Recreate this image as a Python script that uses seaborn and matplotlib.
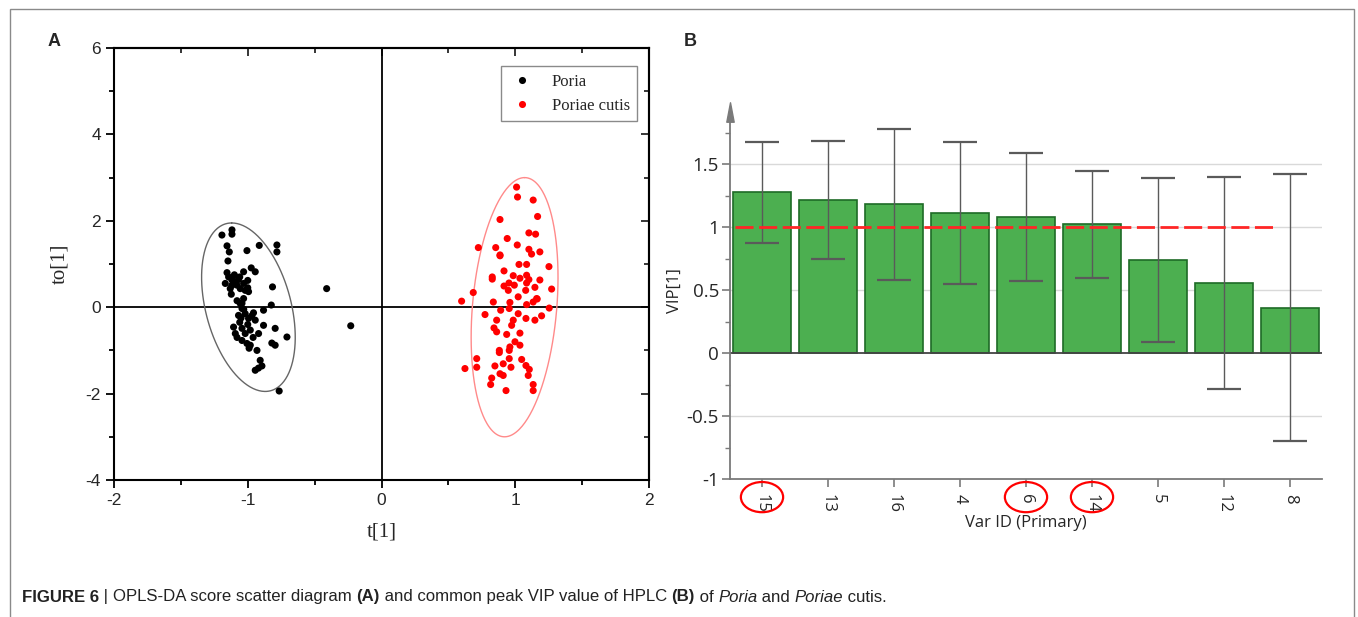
import matplotlib
matplotlib.use("Agg")
import matplotlib.pyplot as plt
import seaborn as sns
import numpy as np
import pandas as pd
from matplotlib.patches import Ellipse, Rectangle
from matplotlib.transforms import blended_transform_factory
from matplotlib.ticker import MultipleLocator
from matplotlib.path import Path

# ---------------- data : panel A (OPLS-DA scores) ----------------
poria_t = [-1.193, -1.118, -1.118, -1.155, -1.138, -1.006, -0.914, -0.782, -0.782, -1.148,
           -1.031, -0.974, -0.944, -1.155, -1.143, -1.168, -1.118, -1.093, -1.069, -1.081,
           -1.131, -1.056, -1.031, -1.019, -0.994, -1.123, -0.815, -1.031, -1.043, -0.824,
           -1.056, -1.043, -1.069, -1.019, -0.957, -0.882, -0.994, -0.944, -0.882, -1.106,
           -1.093, -1.043, -1.019, -0.981, -0.919, -0.795, -0.707, -1.043, -1.006, -0.981,
           -0.931, -0.820, -0.795, -0.907, -0.894, -0.944, -0.920, -0.765, -0.410, -0.230,
           -1.080, -1.060, -1.000, -1.080, -0.960, -1.030, -1.100, -1.120, -0.970, -1.000,
           -1.050, -0.990, -1.060, -1.000]
poria_to = [1.67, 1.79, 1.69, 1.42, 1.28, 1.31, 1.43, 1.44, 1.28, 1.07,
            0.82, 0.91, 0.82, 0.80, 0.70, 0.55, 0.63, 0.59, 0.64, 0.51,
            0.43, 0.43, 0.55, 0.39, 0.36, 0.30, 0.47, 0.20, 0.09, 0.05,
            0.085, -0.03, -0.19, -0.15, -0.13, -0.07, -0.26, -0.30, -0.42, -0.46,
            -0.61, -0.49, -0.61, -0.53, -0.61, -0.49, -0.69, -0.77, -0.84, -0.88,
            -1.00, -0.83, -0.88, -1.23, -1.36, -1.46, -1.41, -1.94, 0.43, -0.43,
            0.15, -0.35, -0.40, -0.70, -0.70, -0.05, 0.75, 0.50, -0.20, 0.62,
            -0.25, -0.95, 0.70, 0.45]

cutis_t = [1.010, 1.017, 1.134, 0.886, 1.167, 1.102, 1.152, 0.940, 0.724, 0.854,
           1.015, 1.102, 1.122, 1.184, 0.886, 0.886, 1.028, 1.085, 1.252, 0.916,
           0.985, 0.828, 0.828, 1.085, 1.102, 1.035, 1.184, 0.953, 0.916, 0.993,
           1.085, 1.078, 1.147, 1.272, 0.948, 0.686, 1.022, 1.160,
           0.599, 0.836, 0.960, 1.085, 1.134, 1.164, 1.254, 0.891, 0.955, 0.774,
           1.022, 0.861, 0.985, 1.080, 1.147, 1.197, 0.973, 0.841, 0.861, 0.936,
           1.035, 0.998, 0.960, 1.035, 0.881, 0.881, 0.955, 0.712, 0.712, 0.624,
           0.848, 0.910, 0.955, 0.968, 1.048, 1.080, 1.105, 1.097, 0.886, 0.910,
           0.824, 0.816, 0.931, 1.134, 1.134]
cutis_to = [2.78, 2.55, 2.48, 2.03, 2.10, 1.72, 1.69, 1.59, 1.38, 1.38,
            1.44, 1.34, 1.23, 1.28, 1.21, 1.19, 0.99, 0.99, 0.94, 0.84,
            0.73, 0.70, 0.65, 0.74, 0.64, 0.67, 0.63, 0.56, 0.49, 0.51,
            0.56, 0.39, 0.46, 0.42, 0.39, 0.34, 0.24, 0.20,
            0.14, 0.12, 0.11, 0.06, 0.12, 0.19, -0.02, -0.07, -0.03, -0.17,
            -0.15, -0.30, -0.30, -0.26, -0.30, -0.20, -0.42, -0.48, -0.57, -0.63,
            -0.60, -0.80, -0.92, -0.88, -1.00, -1.05, -1.00, -1.19, -1.39, -1.42,
            -1.36, -1.31, -1.19, -1.39, -1.21, -1.35, -1.44, -1.58, -1.54, -1.58,
            -1.64, -1.79, -1.93, -1.79, -1.93]

group_names = ["Poria", "Poriae cutis"]
group_colors = ["black", "red"]

# confidence ellipses: centre, upper-vertex offset, horizontal conjugate half-width
poria_ellipse = {"cx": -0.995, "cy": 0.0, "dx": -0.125, "dy": 1.95, "hw": 0.327}
cutis_ellipse = {"cx": 0.995, "cy": 0.0, "dx": 0.075, "dy": 3.0, "hw": 0.316}

# ---------------- data : panel B (VIP) ----------------
vip_ids = ["15", "13", "16", "4", "6", "14", "5", "12", "8"]
vip_values = [1.277, 1.216, 1.181, 1.113, 1.078, 1.023, 0.739, 0.556, 0.360]
vip_err = [0.40, 0.47, 0.60, 0.565, 0.51, 0.425, 0.65, 0.84, 1.06]
vip_threshold = 1.0
circled_ids = ["15", "6", "14"]

# ---------------- figure ----------------
sns.set_theme(style="white")
plt.rcParams["font.family"] = ["Liberation Sans", "DejaVu Sans"]
plt.rcParams["axes.unicode_minus"] = False

W, H = 1358, 617
fig = plt.figure(figsize=(W / 100, H / 100), dpi=100)
fig.patch.set_facecolor("white")

# outer frame
fig.add_artist(Rectangle((10 / W, -0.01), (1354 - 10) / W, 1.01 - 9 / H,
                         transform=fig.transFigure, fill=False,
                         edgecolor="#8a8a8a", lw=1.0))

# ======== Panel A ========
axA = fig.add_axes([114 / W, 1 - 480 / H, (649 - 114) / W, (480 - 48) / H])
df = pd.DataFrame({
    "t": poria_t + cutis_t,
    "to": poria_to + cutis_to,
    "group": [group_names[0]] * len(poria_t) + [group_names[1]] * len(cutis_t),
})
sns.scatterplot(data=df, x="t", y="to", hue="group", hue_order=group_names,
                palette=dict(zip(group_names, group_colors)), s=26,
                linewidth=0, ax=axA, zorder=3)

tt = np.linspace(0, 2 * np.pi, 300)
for e, col in [(poria_ellipse, "#666666"), (cutis_ellipse, "#ff8a8a")]:
    ex = e["cx"] + e["dx"] * np.cos(tt) + e["hw"] * np.sin(tt)
    ey = e["cy"] + e["dy"] * np.cos(tt)
    axA.plot(ex, ey, color=col, lw=1.0, zorder=2)

axA.axhline(0, color="black", lw=1.3, zorder=1)
axA.axvline(0, color="black", lw=1.3, zorder=1)
axA.set_xlim(-2, 2)
axA.set_ylim(-4, 6)
axA.xaxis.set_major_locator(MultipleLocator(1))
axA.xaxis.set_minor_locator(MultipleLocator(0.5))
axA.yaxis.set_major_locator(MultipleLocator(2))
axA.yaxis.set_minor_locator(MultipleLocator(1))
for s in axA.spines.values():
    s.set_color("black")
    s.set_linewidth(1.5)
axA.tick_params(which="both", direction="out", color="black", width=1.3,
                bottom=True, left=True, top=False, right=False,
                labelsize=12.5)
axA.tick_params(which="major", length=6)
axA.tick_params(which="minor", length=3.5)
for lab in axA.get_xticklabels() + axA.get_yticklabels():
    lab.set_fontfamily("Liberation Sans")

secx = axA.secondary_xaxis("top")
secx.xaxis.set_major_locator(MultipleLocator(1))
secx.xaxis.set_minor_locator(MultipleLocator(0.5))
secx.tick_params(which="both", direction="in", labeltop=False, width=1.3)
secx.tick_params(which="major", length=6)
secx.tick_params(which="minor", length=3.5)
secx.spines["top"].set_linewidth(1.5)
secy = axA.secondary_yaxis("right")
secy.yaxis.set_major_locator(MultipleLocator(2))
secy.yaxis.set_minor_locator(MultipleLocator(1))
secy.tick_params(which="both", direction="in", labelright=False, width=1.3)
secy.tick_params(which="major", length=6)
secy.tick_params(which="minor", length=3.5)
secy.spines["right"].set_linewidth(1.5)

axA.set_xlabel("t[1]", fontfamily="Liberation Serif", fontsize=15, labelpad=10)
axA.set_ylabel("to[1]", fontfamily="Liberation Serif", fontsize=15, labelpad=12)

leg = axA.legend(loc="upper right", bbox_to_anchor=(0.978, 0.958),
                 borderaxespad=0, frameon=True, fancybox=False,
                 edgecolor="#8a8a8a", framealpha=1,
                 prop={"family": "Liberation Serif", "size": 12},
                 handletextpad=1.0, borderpad=0.45, labelspacing=0.5,
                 markerscale=1.0, handlelength=1.6)
leg.get_frame().set_linewidth(1.0)

fig.text(54 / W, 1 - 42 / H, "A", fontsize=13, fontweight="bold",
         ha="center", va="center")

# ======== Panel B ========
axB = fig.add_axes([730 / W, 1 - 479 / H, (1322 - 730) / W, (479 - 101.7) / H])
dfb = pd.DataFrame({"id": vip_ids, "vip": vip_values})
sns.barplot(data=dfb, x="id", y="vip", order=vip_ids, color="#4caf50",
            saturation=1, edgecolor="#1e6b26", linewidth=1.2, width=0.88,
            errorbar=None, ax=axB, zorder=2)
axB.errorbar(np.arange(len(vip_ids)), vip_values, yerr=vip_err, fmt="none",
             ecolor="#5a5a5a", elinewidth=1.0, capsize=12, capthick=1.6,
             zorder=3)
axB.set_xlim(-0.485, len(vip_ids) - 1 + 0.485)
axB.set_ylim(-1, 1.995)
axB.set_yticks([-1, -0.5, 0, 0.5, 1, 1.5])
axB.set_yticklabels(["-1", "-0.5", "0", "0.5", "1", "1.5"])
axB.yaxis.set_minor_locator(MultipleLocator(0.25))
axB.grid(False)
for yv in [-0.5, 0.5, 1, 1.5]:
    axB.axhline(yv, color="#d9d9d9", lw=1.0, zorder=0)
axB.axhline(0, color="#444444", lw=1.3, zorder=2.5)
axB.axhline(vip_threshold, xmin=0.008, xmax=0.926, color="#ff2626", lw=2.0,
            ls=(0, (6.5, 2.0)), zorder=4)

for side in ["top", "right"]:
    axB.spines[side].set_visible(False)
axB.spines["left"].set_color("#7a7a7a")
axB.spines["bottom"].set_color("#7a7a7a")
axB.spines["left"].set_linewidth(1.3)
axB.spines["bottom"].set_linewidth(1.3)
axB.spines["left"].set_bounds(-1, 1.84)
arrow = Path([(-0.38, -1), (0.38, -1), (0, 1), (-0.38, -1)],
             [Path.MOVETO, Path.LINETO, Path.LINETO, Path.CLOSEPOLY])
axB.plot([0], [1.915], marker=arrow, ms=14, color="#7a7a7a",
         transform=axB.get_yaxis_transform(), clip_on=False, zorder=5)

axB.tick_params(axis="y", which="major", direction="out", length=6,
                width=1.2, color="#7a7a7a", left=True, labelsize=13.5,
                pad=2)
axB.tick_params(axis="y", which="minor", direction="out", length=3.5,
                width=1.0, color="#7a7a7a", left=True)
axB.tick_params(axis="x", direction="out", length=6, width=1.2,
                color="#7a7a7a", bottom=True, labelsize=12, pad=5)
for lab in axB.get_yticklabels():
    lab.set_fontfamily(["Open Sans", "DejaVu Sans"])
for lab in axB.get_xticklabels():
    lab.set_fontfamily(["Open Sans", "DejaVu Sans"])
    lab.set_rotation(270)
    lab.set_va("top")
    lab.set_ha("center")

axB.set_xlabel("Var ID (Primary)", fontfamily="Open Sans", fontsize=12,
               labelpad=1)
axB.set_ylabel("VIP[1]", fontfamily="Open Sans", fontsize=12, labelpad=3)

btrans = blended_transform_factory(axB.transData, axB.transAxes)
for cid in circled_ids:
    i = vip_ids.index(cid)
    axB.add_patch(Ellipse((i, -0.048), width=0.64, height=0.08,
                          transform=btrans, fill=False, edgecolor="red",
                          lw=1.6, clip_on=False, zorder=6))

fig.text(690 / W, 1 - 42 / H, "B", fontsize=13, fontweight="bold",
         ha="center", va="center")

# ======== Caption ========
caption_parts = [("FIGURE 6", "bold", "normal"), (" | ", "normal", "normal"),
                 ("OPLS-DA score scatter diagram ", "normal", "normal"),
                 ("(A)", "bold", "normal"),
                 (" and common peak VIP value of HPLC ", "normal", "normal"),
                 ("(B)", "bold", "normal"), (" of ", "normal", "normal"),
                 ("Poria", "normal", "italic"), (" and ", "normal", "normal"),
                 ("Poriae", "normal", "italic"), (" cutis.", "normal", "normal")]

fig.canvas.draw()
renderer = fig.canvas.get_renderer()


def text_width(s, weight, style, size):
    t1 = fig.text(0, 0, "|" + s + "|", fontsize=size, fontweight=weight,
                  fontstyle=style, fontfamily="Liberation Sans")
    t2 = fig.text(0, 0, "||", fontsize=size, fontweight=weight,
                  fontstyle=style, fontfamily="Liberation Sans")
    w = t1.get_window_extent(renderer).width - t2.get_window_extent(renderer).width
    t1.remove()
    t2.remove()
    return w


base = 10.0
total = sum(text_width(s, w, st, base) for s, w, st in caption_parts)
size = base * (888 - 22) / total
x = 22.0
for s, w, st in caption_parts:
    fig.text(x / W, 1 - 597 / H, s, fontsize=size, fontweight=w, fontstyle=st,
             fontfamily="Liberation Sans", ha="left", va="center",
             color="#222222")
    x += text_width(s, w, st, size)

fig.savefig("out.png", dpi=100, facecolor="white")
